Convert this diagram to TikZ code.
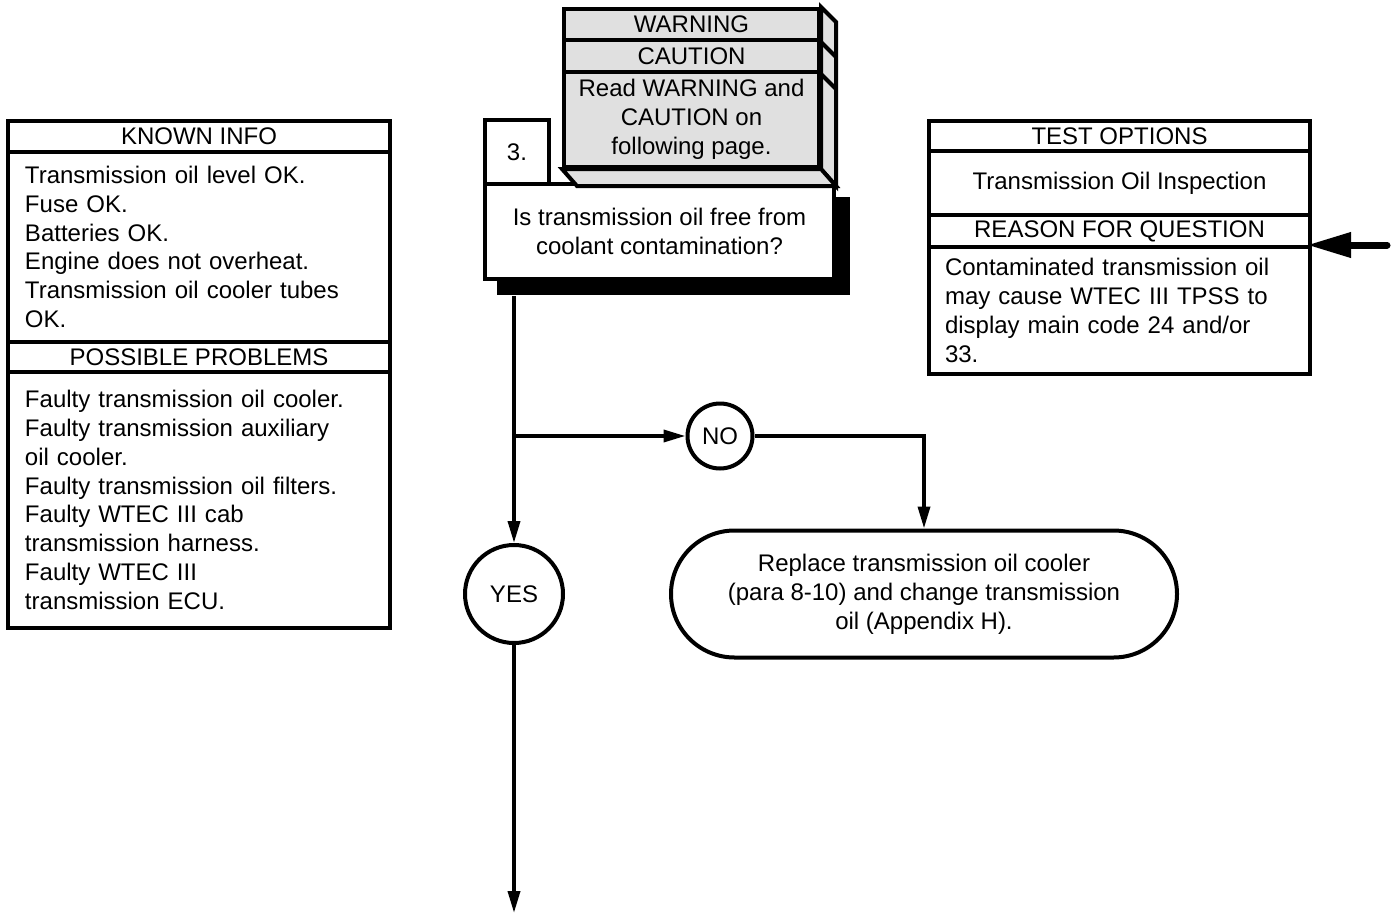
\documentclass[tikz,border=0pt]{standalone}
\usepackage{fontspec}
\setmainfont{Liberation Sans}
\usetikzlibrary{arrows.meta,shapes.misc}

\begin{document}
\begin{tikzpicture}[x=0.5pt,y=-0.5pt,
  txt/.style={font=\fontsize{12}{14.4}\selectfont},
  sect/.style={txt, draw=black, line width=2pt, inner sep=0pt, anchor=north west, align=center},
  body/.style={sect, align=left, inner xsep=8.5pt},
  warn/.style={sect, fill=black!12},
  ring/.style={txt, circle, draw=black, line width=2pt, inner sep=0pt, fill=white},
  conn/.style={line width=1.8pt, -{Triangle[length=11pt,width=6pt]}},
  bigarrow/.style={line width=3.5pt, line cap=round, shorten >=-2.5pt, -{Triangle[length=22pt,width=12pt]}},
  faceline/.style={draw=black, line width=2pt, fill=black!12, line join=miter}
]
\useasboundingbox (0,0) rectangle (1397,915);

% known info / possible problems panel
\node[sect, minimum width=191pt, minimum height=15.5pt] (kh) at (6,119) {KNOWN INFO};
\node[body, minimum width=191pt, minimum height=95pt, text width=174pt] (kb) at (6,150)
  {Transmission oil level OK.\\Fuse OK.\\Batteries OK.\\Engine does not overheat.\\Transmission oil cooler tubes\\OK.};
\node[sect, minimum width=191pt, minimum height=15pt] (ph) at (6,340) {POSSIBLE PROBLEMS};
\node[body, minimum width=191pt, minimum height=128pt, text width=174pt] (pb) at (6,370)
  {Faulty transmission oil cooler.\\Faulty transmission auxiliary\\oil cooler.\\Faulty transmission oil filters.\\Faulty WTEC III cab\\transmission harness.\\Faulty WTEC III\\transmission ECU.};

% test options / reason panel
\node[sect, minimum width=190.5pt, minimum height=15pt] (th) at (927,119) {TEST OPTIONS};
\node[sect, minimum width=190.5pt, minimum height=32pt] (tb) at (927,149) {Transmission Oil Inspection};
\node[sect, minimum width=190.5pt, minimum height=16pt] (rh) at (927,213) {REASON FOR QUESTION};
\node[body, minimum width=190.5pt, minimum height=63.5pt, text width=174.5pt, inner xsep=8pt] (rb) at (927,245)
  {Contaminated transmission oil\\may cause WTEC III TPSS to\\display main code 24 and/or\\33.};

% question step with shadow
\node[fill=black, inner sep=0pt, minimum width=176.5pt, minimum height=49pt, anchor=north west] (qs) at (497,197) {};
\node[sect, fill=white, minimum width=174.5pt, minimum height=47.5pt] (q) at (483,182)
  {Is transmission oil free from\\coolant contamination?};
\node[sect, fill=white, minimum width=32pt, minimum height=32pt] (nb) at (483,118) {3.};

% warning block (front face plus depth)
\node[warn, minimum width=127.5pt, minimum height=15.5pt] (wh) at (562,7) {WARNING};
\node[warn, minimum width=127.5pt, minimum height=16pt] (ch) at (562,38) {CAUTION};
\node[warn, minimum width=127.5pt, minimum height=47.5pt] (wb) at (562,70)
  {Read WARNING and\\CAUTION on\\following page.};
\draw[faceline] (wh.north east) -- ([shift={(15,15)}]wh.north east)
  -- ([shift={(15,17)}]wb.south east) -- (wb.south east) -- cycle;
\draw[faceline] (wb.south west) -- (wb.south east)
  -- ([shift={(15,17)}]wb.south east) -- ([shift={(15,17)}]wb.south west) -- cycle;
\draw[line width=2pt] (wh.south east) -- ++(15,15);
\draw[line width=2pt] (ch.south east) -- ++(15,15);

% decisions and action
\node[ring, minimum size=49pt] (yes) at (514,594) {YES};
\node[ring, minimum size=32.5pt] (no) at (720,436) {NO};
\node[txt, rounded rectangle, draw=black, line width=2pt, inner sep=0pt, align=center,
      minimum width=253pt, minimum height=63.5pt] (act) at (924,594)
  {Replace transmission oil cooler\\(para 8-10) and change transmission\\oil (Appendix H).};

\coordinate (bot) at (514,913);
\coordinate (src) at (1387,245);

% connectors
\draw[conn] (qs.south -| yes) -- (yes.north);
\draw[conn] (yes |- no) -- (no.west);
\draw[conn] (no.east) -| (act.north);
\draw[conn] (yes.south) -- (bot);
\draw[bigarrow] (src) -- (rb.north east);
\end{tikzpicture}
\end{document}
